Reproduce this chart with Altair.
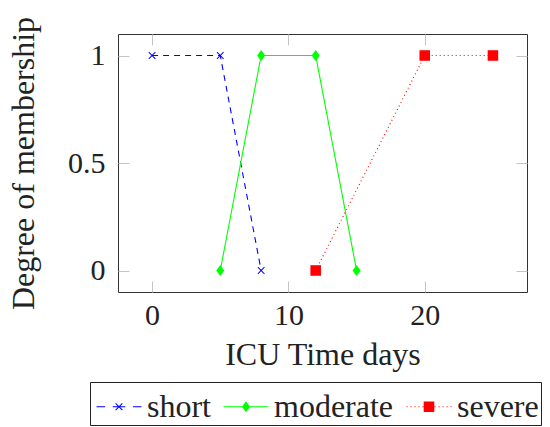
import altair as alt
import pandas as pd

# ---- data ----
series_names = ["short", "moderate", "severe"]
short_x = [0, 5, 8]
short_y = [1, 1, 0]
moderate_x = [5, 8, 12, 15]
moderate_y = [0, 1, 1, 0]
severe_x = [12, 20, 25]
severe_y = [0, 1, 1]
x_ticks = [0, 10, 20]
y_ticks = [0, 0.5, 1]

rows = []
for name, xs, ys in [("short", short_x, short_y),
                     ("moderate", moderate_x, moderate_y),
                     ("severe", severe_x, severe_y)]:
    for i, (xv, yv) in enumerate(zip(xs, ys)):
        rows.append({"series": name, "x": xv, "y": yv, "i": i})
df = pd.DataFrame(rows)

FONT = "Liberation Serif"
colors = ["#0000ff", "#00ff00", "#ff0000"]
xscale = alt.Scale(domain=[-2.5, 27.5], nice=False, zero=False)
yscale = alt.Scale(domain=[-0.1, 1.1], nice=False, zero=False)
cscale = alt.Scale(domain=series_names, range=colors)


def rect(x0, x1, h, s=0.0):
    return f"M{x0+s:.3f},{-h:.3f}H{x1+s:.3f}V{h:.3f}H{x0+s:.3f}Z"


def xmark(a, d, s=0.0):
    p1 = (f"M{-a+d+s:.3f},{-a-d:.3f}L{a+d+s:.3f},{a-d:.3f}"
          f"L{a-d+s:.3f},{a+d:.3f}L{-a-d+s:.3f},{-a+d:.3f}Z")
    p2 = (f"M{a-d+s:.3f},{-a-d:.3f}L{a+d+s:.3f},{-a+d:.3f}"
          f"L{-a+d+s:.3f},{a+d:.3f}L{-a-d+s:.3f},{a-d:.3f}Z")
    return p1 + p2


def diamond(hw, hh, s=0.0):
    return f"M{s:.3f},{-hh:.3f}L{hw+s:.3f},0L{s:.3f},{hh:.3f}L{-hw+s:.3f},0Z"


def square(q, s=0.0):
    return f"M{-q+s:.3f},{-q:.3f}H{q+s:.3f}V{q:.3f}H{-q+s:.3f}Z"


# markers (unit = 5.5 px)
marker_paths = [xmark(0.6, 0.06), diamond(0.73, 1.0), square(0.96)]

# legend symbols (unit = 22.5 px), shifted right a little inside the box
h = 0.024
S = 0.2
leg_short = (rect(-1, -0.62, h, S) + rect(-0.28, 0.28, h, S)
             + xmark(0.15, 0.016, S) + rect(0.62, 1, h, S))
leg_mod = rect(-1, 1, h, S) + diamond(0.178, 0.244, S)
dots = "".join(rect(-1 + k * 0.178, -1 + k * 0.178 + 0.045, h, S) for k in range(12))
leg_sev = dots + square(0.236, S)
legend_paths = [leg_short, leg_mod, leg_sev]

base = alt.Chart(df)

lines = base.mark_line(strokeWidth=1.1).encode(
    x=alt.X("x:Q", scale=xscale, axis=alt.Axis(
        values=x_ticks, ticks=False, tickSize=0, domain=False, grid=False,
        labelFont=FONT, labelFontSize=30, labelColor="#222", labelPadding=8,
        labelFlush=False, title="ICU Time days", titleFont=FONT, titleFontSize=32,
        titleFontWeight="normal", titleColor="#222", titlePadding=9)),
    y=alt.Y("y:Q", scale=yscale, axis=alt.Axis(
        values=y_ticks, format="~g", ticks=False, tickSize=0, domain=False, grid=False,
        labelFont=FONT, labelFontSize=30, labelColor="#222", labelPadding=13,
        labelFlush=False, title="Degree of membership", titleFont=FONT, titleFontSize=32,
        titleFontWeight="normal", titleColor="#222", titlePadding=27)),
    color=alt.Color("series:N", scale=cscale, legend=None),
    strokeDash=alt.StrokeDash("series:N", scale=alt.Scale(
        domain=series_names, range=[[6, 5], [1, 0], [1, 3]]), legend=None),
    order="i:Q",
)


def tick_axis(orient, values):
    return alt.Axis(orient=orient, values=values, labels=False, domain=False,
                    grid=False, ticks=True, tickSize=11, tickWidth=1,
                    tickColor="#c4c4c4", offset=-11, title=None)


ticks_bl = base.mark_point(opacity=0).encode(
    x=alt.X("x:Q", scale=xscale, axis=tick_axis("bottom", x_ticks)),
    y=alt.Y("y:Q", scale=yscale, axis=tick_axis("left", y_ticks)),
)
ticks_tr = base.mark_point(opacity=0).encode(
    x=alt.X("x:Q", scale=xscale, axis=tick_axis("top", x_ticks)),
    y=alt.Y("y:Q", scale=yscale, axis=tick_axis("right", y_ticks)),
)

points = base.mark_point(filled=True, opacity=1, size=121, strokeWidth=0).encode(
    x=alt.X("x:Q", scale=xscale, axis=None),
    y=alt.Y("y:Q", scale=yscale, axis=None),
    color=alt.Color("series:N", scale=cscale, legend=None),
    shape=alt.Shape("series:N", scale=alt.Scale(domain=series_names, range=marker_paths),
                    legend=None),
)

legend_opts = dict(
    orient="none", legendX=-28, legendY=348, direction="horizontal", title=None,
    strokeColor="#222", padding=2, symbolSize=2025, symbolStrokeWidth=0,
    labelFont=FONT, labelFontSize=32, labelColor="#222", labelOffset=10,
    columnPadding=8, labelLimit=400)

legend_layer = base.transform_filter("datum.x < -100").mark_point(
    filled=True, opacity=1, size=2025, strokeWidth=0).encode(
    x=alt.X("x:Q", scale=xscale, axis=None),
    y=alt.Y("y:Q", scale=yscale, axis=None),
    color=alt.Color("series:N", scale=cscale, legend=alt.Legend(**legend_opts)),
    shape=alt.Shape("series:N", scale=alt.Scale(domain=series_names, range=legend_paths),
                    legend=alt.Legend(**legend_opts)),
)

chart = alt.layer(lines, ticks_bl, ticks_tr, points, legend_layer).resolve_axis(
    x="independent", y="independent"
).resolve_scale(
    shape="independent", color="independent"
).properties(
    width=409, height=258,
    autosize=alt.AutoSizeParams(type="none"),
    padding={"left": 118, "top": 34, "right": 23, "bottom": 135},
    background="white",
).configure_view(stroke="#333", strokeWidth=1)

chart.save("out.html", embed_options={"renderer": "svg", "actions": False})
